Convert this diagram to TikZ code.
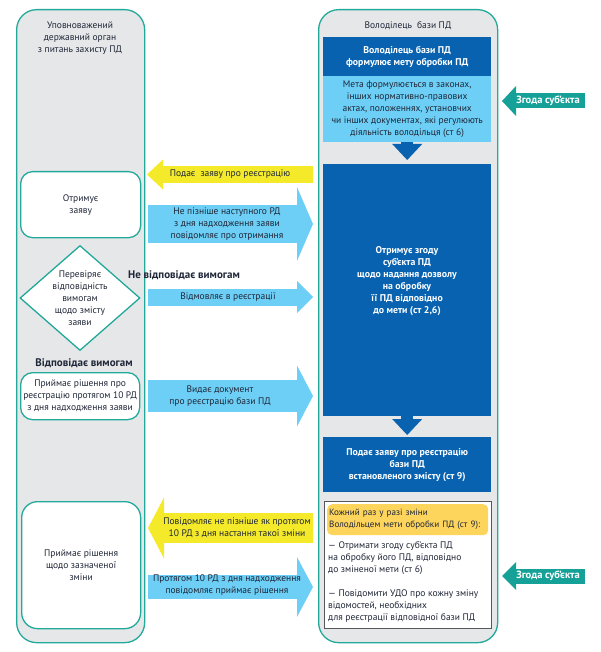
\documentclass[tikz,border=0pt]{standalone}
\usepackage{fontspec}
\setmainfont{PT Sans}
\usetikzlibrary{arrows.meta,calc,positioning,shapes.geometric}

\definecolor{laneteal}{HTML}{22A99A}
\definecolor{lanegray}{HTML}{E6E7E9}
\definecolor{darkblue}{HTML}{0862AF}
\definecolor{lightblue}{HTML}{6DCFF6}
\definecolor{signyellow}{HTML}{F4EA2A}
\definecolor{noteyellow}{HTML}{FDD45C}
\definecolor{consentteal}{HTML}{15A197}
\definecolor{inktext}{HTML}{1F2637}
\definecolor{frame}{HTML}{55585C}

\begin{document}
\begin{tikzpicture}
[x=1pt,y=-1pt,
every node/.style={font=\fontsize{9.5}{12}\selectfont,text=inktext,inner sep=0pt},
lane/.style={draw=laneteal,line width=1.3pt,fill=lanegray,rounded corners=20pt,anchor=north west},
stagebox/.style={draw=laneteal,line width=1.3pt,fill=white,rounded corners=12pt,anchor=north west,align=center},
checkdiamond/.style={diamond,draw=laneteal,line width=1.3pt,fill=white},
ownerbox/.style={fill=darkblue,anchor=north west,align=center,text=white,font=\fontsize{9.8}{12}\selectfont\bfseries},
ownertext/.style={align=center,text=white,font=\fontsize{9.8}{12}\selectfont\bfseries},
lawbox/.style={fill=lightblue,anchor=north west,align=center},
changebox/.style={draw=frame,line width=0.8pt,fill=white,anchor=north west},
notebox/.style={fill=noteyellow,rounded corners=5pt,anchor=north west,text width=157pt,inner xsep=2pt,align=left,font=\fontsize{9.1}{12}\selectfont},
flow/.style 2 args={line width=#1,-{Triangle[width=#2,length=16pt,line width=0pt]}},
bold/.style={font=\fontsize{11}{12}\selectfont\bfseries},
consentlabel/.style={text=white,font=\fontsize{10.5}{12}\selectfont\bfseries}]
\useasboundingbox (0,0) rectangle (600,652);

% lanes
\node[lane,minimum width=128pt,minimum height=633pt] (authority) at (16,9) {};
\node[lane,minimum width=179pt,minimum height=633pt] (owner) at (318,9) {};
\node[align=center] (authoritytitle) at (80,38) {Уповноважений\\державний орган\\з питань захисту ПД};
\node (ownertitle) at (408,26) {Володілець\ \ бази ПД};

% owner of the database
\node[ownerbox,minimum width=168pt,minimum height=39pt] (goal) at (323,37) {Володілець бази ПД\\формулює мету обробки ПД};
\node[lawbox,minimum width=168pt,minimum height=66pt] (goallaw) at (323,76) {Мета формулюється в законах,\\інших нормативно-правових\\актах, положеннях, установчих\\чи інших документах, які регулюють\\діяльність володільця (ст 6)};
\node[ownerbox,minimum width=168pt,minimum height=252pt] (consent) at (323,164) {};
\node[ownertext] (consenttext) at (407,281) {Отримує згоду\\суб’єкта ПД\\щодо надання дозволу\\на обробку\\її ПД відповідно\\до мети (ст 2,6)};
\node[ownerbox,minimum width=168pt,minimum height=55pt] (submit) at (323,437) {Подає заяву про реєстрацію\\бази ПД\\встановленого змісту (ст 9)};
\node[changebox,minimum width=167pt,minimum height=127pt] (changes) at (324,501) {};
\node[notebox,minimum height=31pt] (changenote) at (327,504) {Кожний раз у разі зміни\\Володільцем мети обробки ПД (ст 9):};
\node[anchor=west,align=left] (consentstep) at (328,558) {— Отримати згоду суб’єкта ПД\\на обробку його ПД, відповідно\\до зміненої мети (ст 6)};
\node[anchor=west,align=left] (notifystep) at (328,606) {— Повідомити УДО про кожну зміну\\відомостей, необхідних\\для реєстрації відповідної бази ПД};

\draw[darkblue,line width=12pt,-{Triangle[width=30pt,length=16pt,line width=0pt]}] (goallaw.south) -- ($(consent.north)+(0,-4)$);
\draw[darkblue,line width=12pt,-{Triangle[width=30pt,length=16pt,line width=0pt]}] (consent.south) -- ($(submit.north)+(0,-2)$);

% authority
\node[stagebox,minimum width=120pt,minimum height=66pt] (receive) at (20,171) {Отримує\\заяву};
\node[checkdiamond,minimum width=120pt,minimum height=105pt,
  label={[align=center]center:{Перевіряє\\відповідність\\вимогам\\щодо змісту\\заяви}}] (check) at (80,298) {};
\node[bold] (refuse) at (184,275) {Не відповідає вимогам};
\node[bold] (accept) at (84,363) {Відповідає вимогам};
\node[stagebox,minimum width=119pt,minimum height=47pt] (decide) at (20,372) {Приймає рішення про\\реєстрацію протягом 10 РД\\з дня надходження заяви};
\node[stagebox,minimum width=119pt,minimum height=127pt,rounded corners=16pt] (decidechange) at (21,501) {Приймає рішення\\щодо зазначеної\\зміни};

% flows between the lanes
\draw[flow={17pt}{30pt},signyellow] (313,174.5) -- (147,174.5);
\node (applylabel) at (230,174.5) {Подає\ \ заяву про реєстрацію};
\draw[flow={38pt}{74pt},lightblue] (148,224) -- (313,224);
\node[align=center] (noticelabel) at (227,224) {Не пізніше наступного РД\\з дня надходження заяви\\повідомляє про отримання};
\draw[flow={17pt}{32pt},lightblue] (148,297) -- (313,297);
\node (refuselabel) at (228,297) {Відмовляє в реєстрації};
\draw[flow={32pt}{61pt},lightblue] (148,396) -- (313,396);
\node[align=center] (issuelabel) at (220,396) {Видає документ\\про реєстрацію бази ПД};
\draw[flow={30pt}{61pt},signyellow] (313,528) -- (148,528);
\node[align=center] (changelabel) at (237,528) {Повідомляє не пізніше як протягом\\10 РД з дня настання такої зміни};
\draw[flow={24pt}{60pt},lightblue] (148,587) -- (313,587);
\node[align=center] (answerlabel) at (227,585) {Протягом 10 РД з дня надходження\\повідомляє приймає рішення};

% subject consent
\draw[consentteal,line width=15pt,-{Triangle[width=30pt,length=14pt,line width=0pt]}] (585,101) -- (502,101);
\node[consentlabel] (subjecttop) at (548,101) {Згода суб’єкта};
\draw[consentteal,line width=15pt,-{Triangle[width=28pt,length=14pt,line width=0pt]}] (585,576) -- (502,576);
\node[consentlabel] (subjectbottom) at (548,576) {Згода суб’єкта};
\end{tikzpicture}
\end{document}
